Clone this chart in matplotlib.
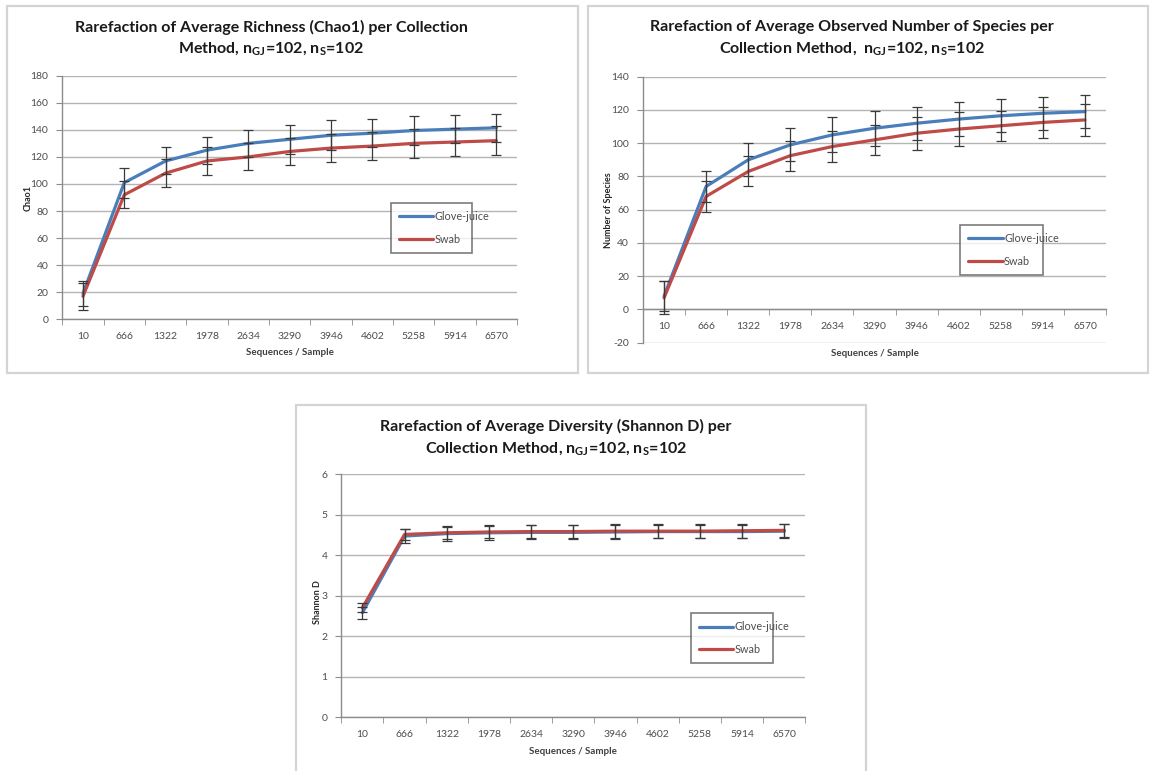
import matplotlib
matplotlib.use('Agg')
import matplotlib.pyplot as plt
from matplotlib.patches import Rectangle
from matplotlib.ticker import FixedLocator, NullFormatter

plt.rcParams['font.family'] = ['Lato', 'DejaVu Sans']
plt.rcParams['mathtext.fontset'] = 'custom'
plt.rcParams['mathtext.rm'] = 'Lato:bold'
plt.rcParams['mathtext.bf'] = 'Lato:bold'

# ---- data ----
seqs = ['10', '666', '1322', '1978', '2634', '3290', '3946', '4602', '5258', '5914', '6570']

chao_gj      = [19, 101, 117, 125, 130, 133, 136, 137.5, 139.5, 140.5, 141.5]
chao_gj_err  = [9, 11, 10, 10, 10, 10.5, 11, 10.5, 10.5, 10.5, 10.5]
chao_sw      = [17, 92, 108, 117, 120, 124, 126.5, 128, 130, 131, 132]
chao_sw_err  = [10, 10, 10.5, 10.5, 10, 10, 10.5, 10.5, 10.5, 10, 10.5]

obs_gj       = [8, 74, 90, 99, 105, 109, 112, 114.5, 116.5, 118, 119]
obs_gj_err   = [9, 9.5, 10, 10, 10.5, 10.5, 10, 10, 10, 10, 10]
obs_sw       = [7, 68, 83, 92.5, 98, 102, 106, 108.5, 110.5, 112.5, 114]
obs_sw_err   = [10, 9.5, 9, 9, 9.5, 9, 10, 10, 9, 9.5, 9.5]

shan_gj      = [2.58, 4.47, 4.53, 4.55, 4.56, 4.56, 4.57, 4.58, 4.58, 4.58, 4.59]
shan_gj_err  = [0.15, 0.17, 0.17, 0.17, 0.17, 0.17, 0.17, 0.17, 0.17, 0.17, 0.17]
shan_sw      = [2.7, 4.51, 4.55, 4.57, 4.58, 4.58, 4.59, 4.59, 4.59, 4.60, 4.61]
shan_sw_err  = [0.11, 0.14, 0.16, 0.16, 0.16, 0.16, 0.17, 0.17, 0.17, 0.17, 0.16]

W, H = 1150., 771.
blue = '#4a7ebb'
red = '#be4b48'
gridc = '#b4b4b4'
axc = '#8c8c8c'
txtc = '#4d4d4d'

fig = plt.figure(figsize=(11.5, 7.71), dpi=100)
fig.patch.set_facecolor('white')

def px(x, y):
    return x / W, 1 - y / H

# panel frames (pixel coords: x0, y0, x1, y1)
frames = [(7, 5.5, 578, 373), (588, 5.5, 1148, 373), (296, 405.5, 866, 790)]
for x0, y0, x1, y1 in frames:
    fig.patches.append(Rectangle((x0 / W, 1 - y1 / H), (x1 - x0) / W, (y1 - y0) / H,
                                 transform=fig.transFigure, fill=False,
                                 edgecolor='#d4d4d4', linewidth=1.6, zorder=0))

panels = [
    dict(ax=(62.3, 75.7, 517, 319.3), ylim=(0, 180), step=20, xaxis_at=0,
         gj=chao_gj, gje=chao_gj_err, sw=chao_sw, swe=chao_sw_err,
         t1='Rarefaction of Average Richness (Chao1) per Collection',
         t2=r'Method, n$_{\mathrm{GJ}}$=102, n$_{\mathrm{S}}$=102',
         tx=271, ty1=27.5, ty2=49.5, ylab='Chao1', ylx=28, yly=198,
         xlx=289.7, xly=352.7, leg=(0.722, 0.302, 0.18, 0.176)),
    dict(ax=(643, 76.7, 1106, 342.7), ylim=(-20, 140), step=20, xaxis_at=0,
         gj=obs_gj, gje=obs_gj_err, sw=obs_sw, swe=obs_sw_err,
         t1='Rarefaction of Average Observed Number of Species per',
         t2=r'Collection Method,  n$_{\mathrm{GJ}}$=102, n$_{\mathrm{S}}$=102',
         tx=852, ty1=27.5, ty2=49.5, ylab='Number of Species', ylx=608.7, yly=210,
         xlx=874.7, xly=353.3, leg=(0.685, 0.276, 0.18, 0.166)),
    dict(ax=(341.3, 474, 805.3, 717.3), ylim=(0, 6), step=1, xaxis_at=0,
         gj=shan_gj, gje=shan_gj_err, sw=shan_sw, swe=shan_sw_err,
         t1='Rarefaction of Average Diversity (Shannon D) per',
         t2=r'Collection Method, n$_{\mathrm{GJ}}$=102, n$_{\mathrm{S}}$=102',
         tx=556, ty1=426.5, ty2=449, ylab='Shannon D', ylx=317, yly=602,
         xlx=573, xly=752, leg=(0.753, 0.248, 0.177, 0.18)),
]

x = list(range(len(seqs)))

for p in panels:
    x0, y0, x1, y1 = p['ax']
    ax = fig.add_axes([x0 / W, 1 - y1 / H, (x1 - x0) / W, (y1 - y0) / H])
    ymin, ymax = p['ylim']
    ax.set_ylim(ymin, ymax)
    ax.set_xlim(-0.5, len(seqs) - 0.5)
    yt = []
    v = ymin
    while v <= ymax + 1e-9:
        yt.append(v)
        v += p['step']
    ax.set_yticks(yt)
    ax.set_yticklabels(['%d' % t for t in yt])
    for t in yt:
        ax.axhline(t, color=gridc, linewidth=1.0, zorder=0)

    ax.plot(x, p['gj'], color=blue, linewidth=2.3, zorder=3, label='Glove-juice', solid_capstyle='round')
    ax.plot(x, p['sw'], color=red, linewidth=2.3, zorder=3, label='Swab', solid_capstyle='round')
    ax.errorbar(x, p['gj'], yerr=p['gje'], fmt='none', ecolor='#3a3a3a', elinewidth=0.9,
                capsize=3.3, capthick=0.9, zorder=4)
    ax.errorbar(x, p['sw'], yerr=p['swe'], fmt='none', ecolor='#3a3a3a', elinewidth=0.9,
                capsize=3.3, capthick=0.9, zorder=4)

    for s in ['top', 'right']:
        ax.spines[s].set_visible(False)
    ax.spines['left'].set_color(axc)
    ax.spines['bottom'].set_color(axc)
    ax.spines['bottom'].set_position(('data', p['xaxis_at']))
    ax.spines['left'].set_linewidth(1.0)
    ax.spines['bottom'].set_linewidth(1.0)

    ax.set_xticks(x)
    ax.set_xticklabels(seqs)
    ax.xaxis.set_minor_locator(FixedLocator([i + 0.5 for i in range(-1, len(seqs))]))
    ax.xaxis.set_minor_formatter(NullFormatter())
    ax.tick_params(axis='x', which='major', length=0, pad=9, labelsize=7.5, labelcolor=txtc)
    ax.tick_params(axis='x', which='minor', length=4, color=axc, direction='out')
    ax.tick_params(axis='y', length=4, color=axc, direction='out', pad=6, labelsize=7.5,
                   labelcolor=txtc)
    ax.set_facecolor('white')

    leg = ax.legend(loc='upper left', bbox_to_anchor=p['leg'], mode='expand',
                    fontsize=7.8, frameon=True, fancybox=False, handlelength=3.2,
                    handletextpad=0.1, borderpad=0.75, labelspacing=1.1, borderaxespad=0)
    leg.get_frame().set_edgecolor('#5a5a5a')
    leg.get_frame().set_linewidth(1.2)
    for t in leg.get_texts():
        t.set_color(txtc)

    tx, ty = px(p['tx'], p['ty1'])
    fig.text(tx, ty, p['t1'], ha='center', va='center', fontsize=11.5, fontweight='bold', color='#1a1a1a')
    tx, ty = px(p['tx'], p['ty2'])
    fig.text(tx, ty, p['t2'], ha='center', va='center', fontsize=11.5, fontweight='bold', color='#1a1a1a')
    lx, ly = px(p['ylx'], p['yly'])
    fig.text(lx, ly, p['ylab'], ha='center', va='center', rotation=90, fontsize=6.5,
             fontweight='bold', color='#262626')
    lx, ly = px(p['xlx'], p['xly'])
    fig.text(lx, ly, 'Sequences / Sample', ha='center', va='center', fontsize=7,
             fontweight='bold', color='#404040')

fig.savefig('out.png', dpi=100, facecolor='white')
